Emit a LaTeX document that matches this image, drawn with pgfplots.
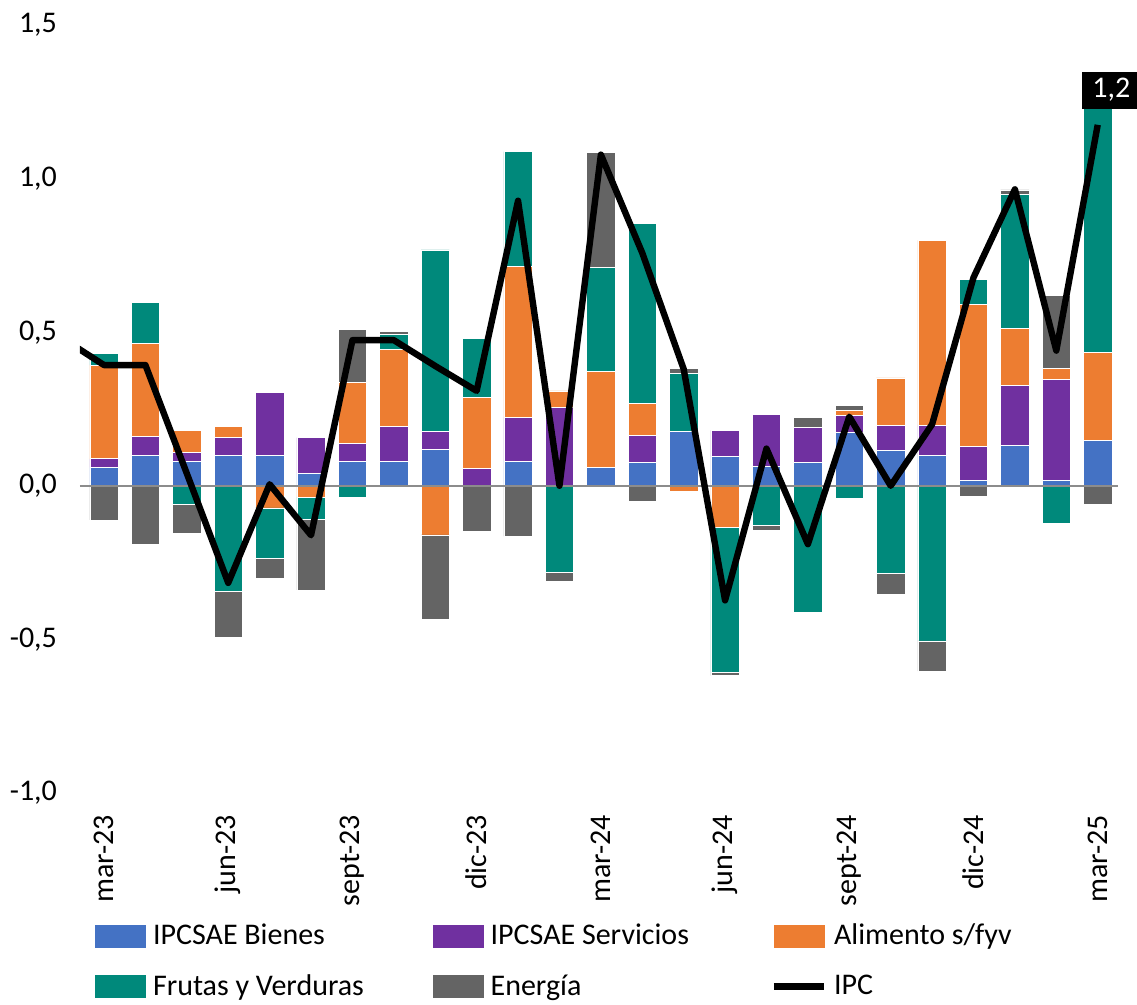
\documentclass[border=0pt]{standalone}
\usepackage{pgfplots}
\pgfplotsset{compat=1.18}
\usepackage{pgfplotstable}
\usepackage{fontspec}
\setmainfont{Carlito}

\definecolor{cB}{HTML}{4472C4}
\definecolor{cS}{HTML}{7030A0}
\definecolor{cA}{HTML}{ED7D31}
\definecolor{cF}{HTML}{00897B}
\definecolor{cE}{HTML}{646464}

% positive contributions
\pgfplotstableread{
x B S A F E
0 0.060 0.028 0.305 0.038 0
1 0.100 0.060 0.304 0.132 0
2 0.080 0.029 0.071 0 0
3 0.100 0.057 0.037 0 0
4 0.100 0.205 0 0 0
5 0.040 0.117 0 0 0
6 0.080 0.058 0.198 0 0.174
7 0.080 0.115 0.250 0.048 0.009
8 0.119 0.058 0 0.591 0
9 0 0.056 0.232 0.193 0
10 0.080 0.143 0.493 0.372 0
11 0 0.257 0.052 0 0
12 0.059 0 0.314 0.339 0.372
13 0.078 0.086 0.104 0.586 0
14 0.176 0 0 0.190 0.017
15 0.097 0.083 0 0 0
16 0.062 0.170 0 0 0
17 0.078 0.114 0 0 0.030
18 0.174 0.056 0.016 0 0.016
19 0.114 0.084 0.153 0 0
20 0.098 0.100 0.601 0 0
21 0.017 0.111 0.462 0.082 0
22 0.132 0.194 0.188 0.436 0.013
23 0.017 0.331 0.033 0 0.239
24 0.149 0 0.284 0.802 0
}\postab

% negative contributions
\pgfplotstableread{
x B S A F E
0 0 0 0 0 -0.111
1 0 0 0 0 -0.190
2 0 0 0 -0.061 -0.094
3 0 0 0 -0.343 -0.151
4 0 0 -0.072 -0.164 -0.064
5 0 0 -0.037 -0.072 -0.230
6 0 0 0 -0.036 0
7 0 0 0 0 0
8 0 0 -0.160 0 -0.274
9 0 0 0 0 -0.149
10 0 0 0 0 -0.165
11 0 0 0 -0.282 -0.030
12 0 0 0 0 0
13 0 0 0 0 -0.052
14 0 0 -0.017 0 0
15 0 0 -0.135 -0.473 -0.010
16 0 0 0 -0.128 -0.016
17 0 0 0 -0.411 0
18 0 0 0 -0.040 0
19 0 0 0 -0.284 -0.068
20 0 0 0 -0.505 -0.098
21 0 0 0 0 -0.033
22 0 0 0 0 0
23 0 0 0 -0.123 0
24 0 0 0 0 -0.060
}\negtab

\pgfplotstableread{
x IPC
-1 0.480
0 0.393
1 0.393
2 0.040
3 -0.316
4 0.005
5 -0.161
6 0.474
7 0.474
8 0.390
9 0.309
10 0.928
11 0.000
12 1.078
13 0.758
14 0.380
15 -0.373
16 0.121
17 -0.190
18 0.225
19 0.000
20 0.200
21 0.678
22 0.965
23 0.440
24 1.175
}\ipctab

\pgfplotsset{
  common/.style={
    width=519pt, height=384pt, scale only axis,
    at={(0pt,0pt)}, anchor=south west,
    xmin=-0.58, xmax=24.49, ymin=-1, ymax=1.5,
    ybar stacked, bar width=14.2pt, reverse stacked plots=false,
  },
  barsty/.style={fill=#1, draw=white, line width=0.3pt,
    legend image code/.code={\fill[#1] (0pt,-5.5pt) rectangle (25pt,5.5pt);}},
}

\begin{document}
\begin{tikzpicture}[font=\fontsize{15}{18}\selectfont]
\useasboundingbox (-40pt,-106pt) rectangle (528.5pt,396.5pt);

% negative parts
\begin{axis}[common, hide axis]
\addplot[barsty=cB] table[x=x,y=B] {\negtab};
\addplot[barsty=cS] table[x=x,y=S] {\negtab};
\addplot[barsty=cA] table[x=x,y=A] {\negtab};
\addplot[barsty=cF] table[x=x,y=F] {\negtab};
\addplot[barsty=cE] table[x=x,y=E] {\negtab};
\end{axis}

% positive parts, line, axes
\begin{axis}[common,
  axis line style={draw=none},
  major tick length=0pt,
  ytick={-1,-0.5,0,0.5,1,1.5},
  /pgf/number format/fixed,
  /pgf/number format/fixed zerofill,
  /pgf/number format/precision=1,
  /pgf/number format/use comma,
  /pgf/number format/assume math mode=true,
  yticklabel style={anchor=east, xshift=-8pt},
  xtick={0,3,...,24},
  xticklabels={mar-23,jun-23,sept-23,dic-23,mar-24,jun-24,sept-24,dic-24,mar-25},
  xticklabel style={rotate=90, anchor=east, xshift=-7.5pt, yshift=0pt},
  legend columns=3,
  legend cell align=left,
  legend style={at={(0.0145,-0.170)}, anchor=north west, draw=none, fill=none,
    inner sep=0pt, row sep=13.5pt,
    nodes={inner sep=0pt},
    /tikz/every odd column/.append style={column sep=3.5pt}},
]
\addplot[barsty=cB] table[x=x,y=B] {\postab};
\addlegendentry{\makebox[140pt][l]{IPCSAE Bienes}}
\addplot[barsty=cS] table[x=x,y=S] {\postab};
\addlegendentry{\makebox[140pt][l]{IPCSAE Servicios}}
\addplot[barsty=cA] table[x=x,y=A] {\postab};
\addlegendentry{\makebox[140pt][l]{Alimento s/fyv}}
\addplot[barsty=cF] table[x=x,y=F] {\postab};
\addlegendentry{\makebox[140pt][l]{Frutas y Verduras}}
\addplot[barsty=cE] table[x=x,y=E] {\postab};
\addlegendentry{\makebox[140pt][l]{Energía}}
\draw[gray!90, line width=1pt] (axis cs:-0.58,0) -- (axis cs:24.49,0);
\addplot[sharp plot, stack plots=false, black, line width=3.2pt, line join=round,
  legend image code/.code={\draw[black, line width=3.2pt] (0pt,0pt) -- (25pt,0pt);}]
  table[x=x,y=IPC] {\ipctab};
\addlegendentry{\makebox[140pt][l]{IPC}}
\coordinate (lbl) at (axis cs:24.33,1.288);
\end{axis}
\node[fill=black, text=white, minimum width=29pt, minimum height=18.5pt, inner sep=0pt] at (lbl) {1,2};
\end{tikzpicture}
\end{document}
